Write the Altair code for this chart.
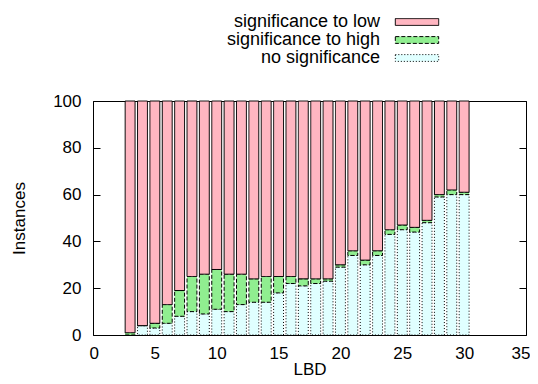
import altair as alt
import pandas as pd

# ---- data ----
lbd = list(range(3, 31))
no_sig = [0, 4, 3, 5, 8, 10, 9, 11, 10, 13, 14, 14, 18, 22, 21, 22, 23, 29, 34, 30,
          34, 43, 45, 44, 48, 59, 60, 60]
sig_high = [1, 0, 2, 8, 11, 15, 17, 17, 16, 13, 10, 11, 7, 3, 3, 2, 1, 1, 2, 2,
            2, 2, 2, 2, 1, 1, 2, 1]
total = 100
categories = ["significance to low", "significance to high", "no significance"]
colors = ["#ffb6c1", "#90ee90", "#e0ffff"]
dashes = [[1, 0], [4, 2], [1, 2]]
x_ticks = [0, 5, 10, 15, 20, 25, 30, 35]
y_ticks = [0, 20, 40, 60, 80, 100]

rows = []
for i, x in enumerate(lbd):
    low = total - no_sig[i] - sig_high[i]
    parts = [("no significance", no_sig[i]),
             ("significance to high", sig_high[i]),
             ("significance to low", low)]
    for k, (cat, v) in enumerate(parts):
        rows.append({"LBD": x, "cat": cat, "value": v, "ord": k})
df = pd.DataFrame(rows)

font = "Liberation Sans"
xscale = alt.Scale(domain=[0, 35], nice=False, zero=False)
yscale = alt.Scale(domain=[0, 100], nice=False)

base = alt.Chart(df).transform_calculate(
    lo="datum.LBD - 0.4", hi="datum.LBD + 0.4"
).transform_stack(
    stack="value", groupby=["LBD"], as_=["y0", "y1"], sort=[alt.SortField("ord")]
)

legend = alt.Legend(
    title=None, orient="none", legendX=315, legendY=alt.ExprRef(expr="-88"),
    symbolType="M-2.55,-0.4L2.55,-0.4L2.55,0.4L-2.55,0.4Z", symbolSize=289,
    symbolStrokeColor="black", symbolStrokeWidth=1, symbolOpacity=1,
    labelAlign="right", labelOffset=alt.ExprRef(expr="-46"), labelFontSize=18, labelFont=font,
    labelColor="black", rowPadding=0, labelLimit=0,
)

bars = base.mark_bar(stroke="black", strokeWidth=1).encode(
    x=alt.X("lo:Q", scale=xscale,
            axis=alt.Axis(orient="bottom", title="LBD", values=x_ticks, offset=-7,
                          tickSize=7, domain=False, grid=False, labelPadding=10,
                          titlePadding=0, labelFlush=True, labelFlushOffset=4)),
    x2="hi:Q",
    y=alt.Y("y0:Q", scale=yscale,
            axis=alt.Axis(orient="left", title="Instances", values=y_ticks, offset=-7,
                          tickSize=7, domain=False, grid=False, labelPadding=12,
                          titlePadding=24, labelFlush=False)),
    y2="y1:Q",
    color=alt.Color("cat:N", scale=alt.Scale(domain=categories, range=colors), legend=legend),
    stroke=alt.Stroke("cat:N", scale=alt.Scale(domain=categories, range=["black"] * 3), legend=legend),
    strokeDash=alt.StrokeDash("cat:N", scale=alt.Scale(domain=categories, range=dashes), legend=legend),
)

mirror = base.mark_bar(opacity=0).encode(
    x=alt.X("lo:Q", scale=xscale,
            axis=alt.Axis(orient="top", title=None, labels=False, values=x_ticks, offset=-7,
                          tickSize=7, domain=False, grid=False)),
    x2="hi:Q",
    y=alt.Y("y0:Q", scale=yscale,
            axis=alt.Axis(orient="right", title=None, labels=False, values=y_ticks, offset=-7,
                          tickSize=7, domain=False, grid=False)),
    y2="y1:Q",
)

chart = alt.layer(bars, mirror).resolve_axis(x="independent", y="independent").properties(
    width=433, height=234,
    padding={"left": 85, "top": 93, "right": 4, "bottom": 48},
    autosize=alt.AutoSizeParams(type="none"),
).configure_view(
    stroke="black", strokeWidth=1
).configure_axis(
    labelFont=font, labelFontSize=17, labelColor="black",
    titleFont=font, titleFontSize=17, titleFontWeight="normal", titleColor="black",
    tickColor="black", tickWidth=1,
)

chart.save("out.html", embed_options={"renderer": "svg", "actions": False})
